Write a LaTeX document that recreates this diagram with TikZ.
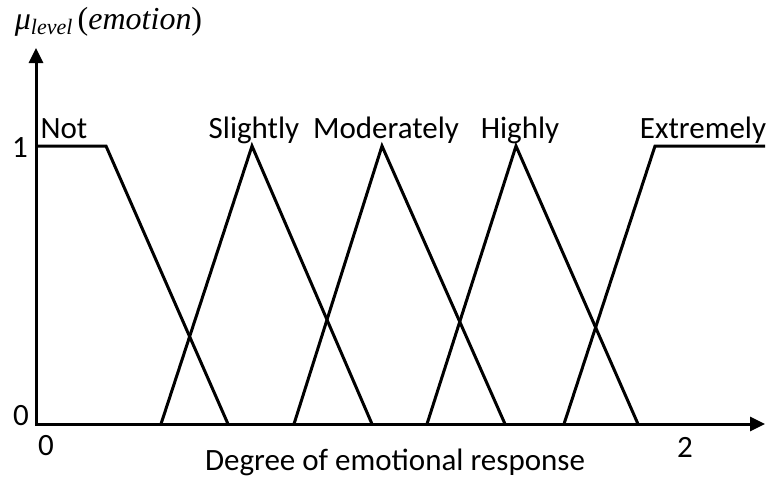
\documentclass[tikz,border=0pt]{standalone}
\usepackage{fontspec}
\setmainfont{Carlito}
\newfontfamily\mufont{Liberation Serif}
\usetikzlibrary{arrows.meta}

\begin{document}
\begin{tikzpicture}[x=1pt,y=-1pt,line width=3pt,
		lbl/.style={anchor=base,font=\fontsize{31}{36}\selectfont}]
		\useasboundingbox (0,0) rectangle (772,483);

		\coordinate (o) at (36,424);
		\coordinate (xend) at (765,424);
		\coordinate (yend) at (36,48);
		\draw[{Triangle[length=15pt,width=14pt]}-{Triangle[length=15pt,width=14pt]}]
			(yend) -- (o) -- (xend);

		% membership functions
		\draw (36,146) -- (106,146) -- (228,424);
		\foreach \a/\b/\c in {161/252/372, 294/382/505, 427/516/638}
			\draw (\a,424) -- (\b,146) -- (\c,424);
		\draw (564,424) -- (655,146) -- (765,146);

		\foreach \x/\name/\txt in
		{64/not/Not, 254/slightly/Slightly, 386/moderately/Moderately,
		520/highly/Highly, 703/extremely/Extremely}
			\node[lbl] (\name) at (\x,138) {\txt};

		\node[lbl] (one) at (20,157) {1};
		\node[lbl] (zeroy) at (21,425) {0};
		\node[lbl] (zerox) at (46,455) {0};
		\node[lbl] (two) at (685,457) {2};
		\node[lbl] (xlabel) at (395,470) {Degree of emotional response};
		\node[anchor=base west,font=\mufont\fontsize{32}{38}\selectfont] (ylabel) at (10,29)
			{\textit{μ}\raisebox{-5pt}{\fontsize{22}{26}\selectfont\textit{level}}\,(\textit{emotion})};
	\end{tikzpicture}
\end{document}
